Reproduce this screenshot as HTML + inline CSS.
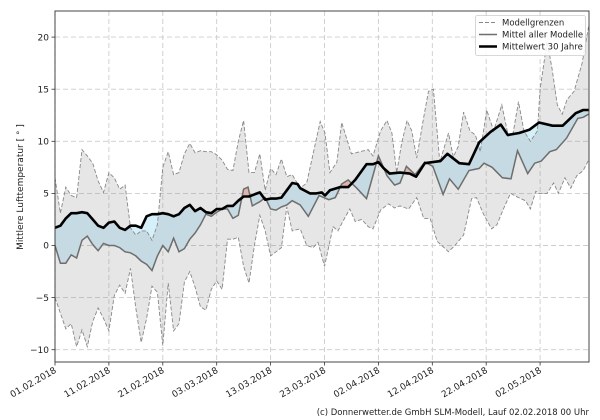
<!DOCTYPE html>
<html><head><meta charset="utf-8"><style>
html,body{margin:0;padding:0;background:#fff;}
svg{display:block;font-family:"DejaVu Sans","Liberation Sans",sans-serif;}
</style></head><body>
<svg id="s" width="600" height="420" viewBox="0 0 600 420"></svg>
<script>
var X0=55,X1=589,Y0=11,Y1=362;
function px(d){return 55+d*5.39;}
function py(v){return 245.5-v*10.42;}
var mean30=[[0,1.7],[1,1.9],[2,2.6],[3,3.1],[4,3.1],[5,3.2],[6,3.1],[7,2.5],[8,1.9],[9,1.7],[10,2.2],[11,2.3],[12,1.7],[13,1.5],[14,1.9],[15,1.9],[16,1.7],[17,2.8],[18,3.0],[19,3.0],[20,3.1],[21,3.0],[22,2.8],[23,3.0],[24,3.6],[25,3.9],[26,3.3],[27,3.6],[28,3.2],[29,3.1],[30,3.5],[31,3.5],[32,3.8],[33,3.8],[34,4.3],[35,4.7],[36,4.7],[37,4.9],[38,5.1],[39,4.4],[40,4.5],[41,4.5],[42,4.6],[43,5.3],[44,6.0],[45,5.9],[45.5,5.5],[47.3,5.0],[48.5,5.0],[49.5,5.1],[50.1,4.8],[51,5.3],[52.9,5.6],[54.4,5.6],[55.7,6.3],[57.8,7.8],[59,7.8],[60,8.0],[61,7.4],[62.1,6.9],[64,7.0],[65.8,6.9],[67,6.6],[68.6,7.9],[70.1,8.0],[71.5,8.1],[72.8,8.8],[75,7.9],[76.8,7.8],[78.7,9.9],[80.8,10.9],[82.7,11.6],[84,10.6],[86.1,10.8],[88,11.1],[89.8,11.8],[92.3,11.5],[94.2,11.5],[96.6,12.7],[98,13.0],[99,13.0]];
var mod=[[0,0],[1,-1.7],[2,-1.7],[3,-0.9],[4,-1.2],[5,0.5],[6,0.9],[7,0.1],[8,-0.5],[9,0.2],[10,0],[11,0],[12,-0.2],[13,-0.6],[14,-0.7],[15,-1.0],[16,-1.5],[17,-1.8],[18,-2.4],[19,-1.0],[20,0],[21,-0.6],[22,0.7],[23,-0.6],[24,-0.3],[25,0.6],[26,1.2],[27,2.0],[28,3.0],[29,2.8],[30,3.2],[31,3.5],[32,3.5],[33,2.6],[34,2.9],[35,5.4],[35.8,5.6],[36.6,3.8],[38,4.2],[39,4.6],[40,3.5],[41,3.4],[42,3.7],[43,3.9],[44,4.3],[45.5,3.9],[47,2.8],[49,4.8],[50.8,4.4],[52,4.6],[53.2,5.9],[54.4,6.3],[56,5.5],[57.8,4.5],[60,8.6],[61.6,6.7],[63,5.8],[64,6.0],[65.2,7.6],[66.8,6.8],[68.6,8.0],[70.1,7.6],[72,4.9],[73.2,6.4],[74.8,5.4],[76.8,7.2],[78.7,7.4],[79.6,7.9],[81.1,7.5],[83,6.5],[84.6,6.4],[85.8,9.1],[87.7,6.9],[89,7.9],[90.2,8.1],[91.8,9.0],[93,9.2],[94.9,10.3],[97,12.2],[98,12.3],[99,12.6]];
var up=[[0,6.5],[1,3.1],[2,5.6],[3,4.8],[4,4.6],[5,9.2],[6,8.6],[7,7.9],[8,6.2],[9,5.1],[10,7.0],[11,6.5],[12,5.4],[13,5.8],[14,1.7],[15,1.0],[16,1.4],[17,1.4],[18,0.5],[19,2.0],[20,7.5],[21,9.0],[22,6.8],[23,7.0],[24,8.8],[25,9.8],[26,8.9],[27,9.1],[28,9.0],[29,9.0],[30,8.7],[31,8.2],[32,7.3],[33,7.2],[34,10.0],[35,12.0],[36,7.0],[37,7.0],[38,8.8],[39,5.3],[40,7.4],[41,6.8],[42,8.3],[43,6.6],[44,6.8],[45.5,5.5],[46.7,6.0],[49.2,11.9],[50.1,10.8],[51,7.0],[52.3,8.0],[53.2,11.8],[55,8.8],[56.6,9.0],[58.1,9.2],[59,8.6],[60.4,11.0],[61.6,12.0],[62.5,10.8],[63.4,7.0],[64.3,9.8],[65.3,12.0],[66.2,11.0],[67.1,8.4],[68.4,12.3],[69.3,14.8],[70.2,15.0],[71.4,8.0],[73,10.8],[73.9,8.5],[74.8,9.5],[75.8,12.8],[77,11.0],[78,10.6],[78.9,9.0],[80.1,13.0],[81.4,11.0],[82.9,13.5],[84.1,10.5],[85,10.8],[86,13.8],[87,11.0],[88.2,10.0],[89.5,11.0],[90,15.0],[91.3,19.6],[92.2,17.0],[93.2,13.5],[94.1,12.6],[95,14.0],[96.3,14.8],[97.8,17.5],[99,21]];
var lo=[[0,-5.0],[1,-6.5],[2,-8.0],[3,-7.5],[4,-9.7],[5,-8.1],[6,-9.7],[7,-7.3],[8,-6.0],[9,-7.0],[10,-8.2],[11,-4.8],[12,-3.8],[13,-4.6],[14,-2.2],[15,-6.0],[16,-9.3],[17,-7.0],[18,-3.9],[19,-4.5],[20,-9.6],[21,-3.6],[22,-8.2],[23,-7.5],[24,-3.5],[25,-2.5],[26,-4.0],[27,-5.9],[28,-6.2],[29,-4.2],[30,-3.4],[31,-4.2],[32,0.6],[33,0.6],[34,0.8],[35,-2.0],[36,-3.6],[37,0.0],[38,2.9],[39,1.4],[40,-1.0],[41,-0.6],[42,-0.2],[43,3.7],[44,1.4],[45.5,1.6],[46.7,0.0],[47.9,-0.2],[48.8,0.3],[50,-2.0],[51.6,1.8],[52.5,1.4],[53.4,2.3],[54.7,3.5],[55.7,2.3],[56.9,2.5],[58.1,1.8],[59,1.6],[60.4,3.4],[61.9,4.0],[63,3.6],[64,3.8],[65.6,3.5],[67.1,4.6],[68.4,2.6],[69.6,2.6],[70.9,0.4],[73,-0.6],[74.2,0.0],[75.8,1.0],[77.3,4.5],[78.2,4.6],[79.5,3.0],[81,1.6],[82,2.0],[83.2,3.5],[84.5,5.0],[86,4.6],[87.3,4.3],[88.2,3.5],[89.2,5.2],[89.8,5.0],[91.3,5.0],[92.5,6.0],[93.4,5.0],[94.6,6.5],[95.7,5.5],[96.8,6.7],[98,7.2],[99,8.2]];
function pts(a){return a.map(function(p){return px(p[0]).toFixed(1)+","+py(p[1]).toFixed(1);}).join(" ");}
function rev(a){return a.slice().reverse();}
var h='';
h+='<defs><clipPath id="ax"><rect x="'+X0+'" y="'+Y0+'" width="'+(X1-X0)+'" height="'+(Y1-Y0)+'"/></clipPath>';
h+='<clipPath id="below"><polygon points="'+pts(mean30)+' '+px(99)+',400 '+px(0)+',400"/></clipPath>';
h+='<clipPath id="above"><polygon points="'+pts(mean30)+' '+px(99)+',0 '+px(0)+',0"/></clipPath></defs>';
var xl=["01.02.2018","11.02.2018","21.02.2018","03.03.2018","13.03.2018","23.03.2018","02.04.2018","12.04.2018","22.04.2018","02.05.2018"];
for(var i=0;i<10;i++){var x=px(i*10);h+='<line x1="'+x+'" y1="'+Y0+'" x2="'+x+'" y2="'+Y1+'" stroke="#ccc" stroke-width="0.9" stroke-dasharray="5,3"/>';}
for(var v=-10;v<=20;v+=5){var y=py(v);h+='<line x1="'+X0+'" y1="'+y+'" x2="'+X1+'" y2="'+y+'" stroke="#ccc" stroke-width="0.9" stroke-dasharray="5,3"/>';}
var g='<g clip-path="url(#ax)">';
var band=pts(mod)+' '+pts(rev(mean30));
g+='<polygon points="'+band+'" fill="#d6f0fa" clip-path="url(#below)"/>';
g+='<polygon points="'+band+'" fill="#f7c4b4" clip-path="url(#above)"/>';
g+='<polygon points="'+pts(up)+' '+pts(rev(lo))+'" fill="#808080" fill-opacity="0.2"/>';
g+='<polyline points="'+pts(up)+'" fill="none" stroke="#888" stroke-width="0.9" stroke-dasharray="4,2"/>';
g+='<polyline points="'+pts(lo)+'" fill="none" stroke="#888" stroke-width="0.9" stroke-dasharray="4,2"/>';
g+='<polyline points="'+pts(mod)+'" fill="none" stroke="#6e6e6e" stroke-width="1.5"/>';
g+='<polyline points="'+pts(mean30)+'" fill="none" stroke="#000" stroke-width="2.6" stroke-linejoin="round"/>';
g+='</g>';
h+=g;
h+='<rect x="'+X0+'" y="'+Y0+'" width="'+(X1-X0)+'" height="'+(Y1-Y0)+'" fill="none" stroke="#333" stroke-width="0.9"/>';
for(var v=-10;v<=20;v+=5){var y=py(v);h+='<line x1="'+(X0-3.5)+'" y1="'+y+'" x2="'+X0+'" y2="'+y+'" stroke="#333" stroke-width="0.8"/><text x="'+(X0-6)+'" y="'+(y+3.2)+'" font-size="9" text-anchor="end" fill="#222">'+(v<0?'\u2212'+(-v):v)+'</text>';}
for(var i=0;i<10;i++){var x=px(i*10);h+='<line x1="'+x+'" y1="'+Y1+'" x2="'+x+'" y2="'+(Y1+3.5)+'" stroke="#333" stroke-width="0.8"/><text transform="translate('+(x+2)+','+(Y1+10)+') rotate(-30)" font-size="9" text-anchor="end" fill="#222">'+xl[i]+'</text>';}
h+='<text transform="translate(23,187) rotate(-90)" font-size="9" text-anchor="middle" fill="#222">Mittlere Lufttemperatur [ ° ]</text>';
h+='<text x="589" y="415" font-size="8.5" text-anchor="end" fill="#222">(c) Donnerwetter.de GmbH SLM-Modell, Lauf 02.02.2018 00 Uhr</text>';
h+='<rect x="475.5" y="15.5" width="110" height="40" rx="2" fill="#fff" fill-opacity="0.85" stroke="#ccc" stroke-width="0.8"/>';
h+='<line x1="479" y1="22.5" x2="497" y2="22.5" stroke="#888" stroke-width="0.9" stroke-dasharray="4,2"/><text x="502" y="25.5" font-size="8.5" fill="#222">Modellgrenzen</text>';
h+='<line x1="479" y1="34.5" x2="497" y2="34.5" stroke="#6e6e6e" stroke-width="1.5"/><text x="502" y="37.5" font-size="8.5" fill="#222">Mittel aller Modelle</text>';
h+='<line x1="479" y1="46.5" x2="497" y2="46.5" stroke="#000" stroke-width="2.6"/><text x="502" y="49.5" font-size="8.5" fill="#222">Mittelwert 30 Jahre</text>';
document.getElementById('s').innerHTML=h;
</script>
</body></html>
